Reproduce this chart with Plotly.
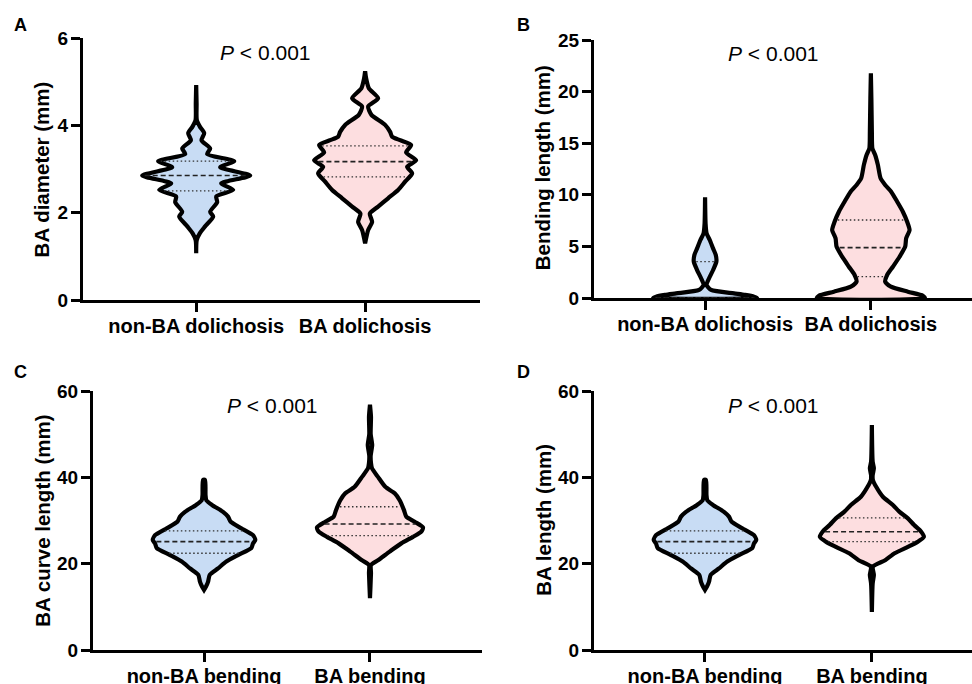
import numpy as np
import plotly.graph_objects as go

# ---------------- DATA ----------------
# Violin outlines: y values (mm) and half-width density readings (bottom -> top)
A_non_y = [1.07, 1.37, 1.53, 1.68, 1.91, 2.02, 2.24, 2.37, 2.52, 2.67, 2.85, 3.04, 3.18, 3.34, 3.47, 3.66, 3.82, 3.97, 4.12, 4.50, 4.92]
A_non_w = [0, 0.5, 3.7, 8.7, 17, 14, 21, 20, 37, 25, 54, 24, 38, 11, 14, 5.3, 8, 3.7, 0.6, 0.4, 0]
A_ba_y = [1.30, 1.60, 1.79, 1.98, 2.14, 2.33, 2.52, 2.71, 2.90, 3.05, 3.20, 3.38, 3.55, 3.66, 3.74, 3.85, 4.01, 4.24, 4.43, 4.62, 4.85, 5.08, 5.24]
A_ba_w = [0, 3, 7, 4.7, 13, 23, 33, 40, 47, 42, 51, 41, 46, 35, 27, 25, 20, 6.3, 3, 13, 3.7, 1, 0]

B_non_y = [0, 0.13, 0.30, 0.45, 0.78, 1.26, 1.91, 2.71, 3.52, 4.17, 4.81, 5.62, 6.27, 7.2, 9.76]
B_non_w = [52, 49, 40, 29, 6, 1.5, 4, 8, 11.3, 10.7, 8, 4.7, 1.5, 0.5, 0]
B_ba_y = [0, 0.22, 0.61, 1.1, 1.58, 2.23, 3.03, 4.0, 4.97, 5.78, 6.59, 7.39, 8.36, 9.33, 10.3, 10.95, 11.6, 12.9, 13.86, 14.5, 16.1, 19.35, 21.77]
B_ba_w = [54, 52, 37, 20, 14.3, 16.3, 22, 28.7, 34.3, 35.3, 38.7, 36.3, 32, 26.3, 20.3, 14.3, 9.7, 7, 4.3, 1.5, 1, 0.5, 0]

C_non_y = [13.9, 14.7, 15.8, 17.4, 18.9, 20.5, 22.0, 23.6, 24.7, 25.5, 26.6, 28.2, 29.7, 30.9, 32.0, 33.6, 34.7, 35.9, 39.4]
C_non_w = [0, 2, 4, 5.7, 14, 22.3, 34, 47.3, 49, 51.3, 49, 37.3, 26.7, 24, 19, 8, 2.3, 1.5, 1]
C_ba_y = [12.0, 17.8, 19.7, 20.8, 22.8, 24.7, 26.2, 27.4, 28.4, 29.7, 30.9, 32.4, 34.7, 36.3, 37.8, 40.1, 42.1, 43.3, 45.0, 47.5, 50.0, 54.0, 56.8]
C_ba_w = [0, 1, 1, 8, 19.7, 31.3, 43, 51.3, 53, 44.7, 36.3, 34, 29.7, 24.7, 15.3, 8, 2, 1, 0.7, 2.2, 0.7, 1, 0]

D_non_y = [13.9, 14.7, 15.8, 17.4, 18.9, 20.5, 22.0, 23.6, 24.7, 25.5, 26.6, 28.2, 29.7, 30.9, 32.0, 33.6, 34.7, 35.9, 39.4]
D_non_w = [0, 2, 4, 5.7, 14, 22.3, 34, 47.3, 49, 51.3, 49, 37.3, 26.7, 24, 19, 8, 2.3, 1.5, 1]
D_ba_y = [8.8, 15.4, 17.4, 19.3, 20.8, 22.4, 23.9, 25.1, 26.2, 27.4, 29.0, 30.5, 32.0, 33.6, 35.5, 37.8, 39.4, 40.5, 42.1, 43.6, 52.1]
D_ba_w = [0, 0.8, 2, 1, 13.3, 22.7, 36, 46, 52, 49.3, 42, 36, 27.7, 21, 11, 4.3, 1, 0.8, 2, 0.8, 0]

# Quartiles [Q1, median, Q3]
A_non_q = [2.50, 2.85, 3.18]
A_ba_q = [2.82, 3.17, 3.53]
B_non_q = [0.0, 0.0, 3.52]
B_ba_q = [2.07, 4.88, 7.56]
C_non_q = [22.4, 25.1, 27.6]
C_ba_q = [26.5, 29.2, 33.2]
D_non_q = [22.4, 25.1, 27.6]
D_ba_q = [25.1, 27.4, 30.6]

cats_dolichosis = ["non-BA dolichosis", "BA dolichosis"]
cats_bending = ["non-BA bending", "BA bending"]
y_titles = ["BA diameter (mm)", "Bending length (mm)", "BA curve length (mm)", "BA length (mm)"]
panel_letters = ["A", "B", "C", "D"]
p_text = "<i>P</i> &lt; 0.001"
A_ticks = [0, 2, 4, 6]
B_ticks = [0, 5, 10, 15, 20, 25]
C_ticks = [0, 20, 40, 60]
D_ticks = [0, 20, 40, 60]

# ---------------- STYLE / LAYOUT ----------------
W, H = 972, 684
FONT = "Liberation Sans, Arial, Helvetica, sans-serif"
BLUE = "#C8DCF4"
PINK = "#FDDEE0"

panels = [
    dict(xd=(83, 480), yd=(38, 300), xr=(-0.67, 1.68), yr=(0, 6), ticks=A_ticks, cats=cats_dolichosis,
         v=[(A_non_y, A_non_w, A_non_q), (A_ba_y, A_ba_w, A_ba_q)], title_x=41.7, title_y=169.7,
         letter=(20, 25), p=(0.41, 5.67)),
    dict(xd=(594, 972), yd=(40, 298), xr=(-0.67, 1.61), yr=(0, 25), ticks=B_ticks, cats=cats_dolichosis,
         v=[(B_non_y, B_non_w, B_non_q), (B_ba_y, B_ba_w, B_ba_q)], title_x=542.7, title_y=167.5,
         letter=(523, 25), p=(0.41, 23.7)),
    dict(xd=(93, 482), yd=(391, 650), xr=(-0.669, 1.675), yr=(0, 60), ticks=C_ticks, cats=cats_bending,
         v=[(C_non_y, C_non_w, C_non_q), (C_ba_y, C_ba_w, C_ba_q)], title_x=41.7, title_y=521,
         letter=(20, 372), p=(0.41, 56.7)),
    dict(xd=(594, 972), yd=(391, 650), xr=(-0.665, 1.6), yr=(0, 60), ticks=D_ticks, cats=cats_bending,
         v=[(D_non_y, D_non_w, D_non_q), (D_ba_y, D_ba_w, D_ba_q)], title_x=542.7, title_y=520,
         letter=(523, 372), p=(0.41, 56.7)),
]

fig = go.Figure()
annotations = []
layout_axes = {}

for i, pn in enumerate(panels):
    n = "" if i == 0 else str(i + 1)
    xa, ya = "x" + n, "y" + n
    px_per_cat = (pn["xd"][1] - pn["xd"][0]) / (pn["xr"][1] - pn["xr"][0])
    for c, ((vy, vw, q), fill) in enumerate(zip(pn["v"], [BLUE, PINK])):
        hw = np.array(vw) / px_per_cat
        vy = np.array(vy)
        xs = list(c + hw) + list(c - hw[::-1]) + [c + hw[0]]
        ys = list(vy) + list(vy[::-1]) + [vy[0]]
        fig.add_trace(go.Scatter(x=xs, y=ys, xaxis=xa, yaxis=ya, mode="lines", fill="toself",
                                 fillcolor=fill, line=dict(color="black", width=4.2, shape="spline", smoothing=0.6),
                                 hoverinfo="skip", showlegend=False))
        # quartile lines
        for k, qv in enumerate(q):
            half = max(np.interp(qv, vy, hw) - 2.5 / px_per_cat, 0)
            fig.add_trace(go.Scatter(x=[c - half, c + half], y=[qv, qv], xaxis=xa, yaxis=ya, mode="lines",
                                     line=dict(color="#222222" if k == 1 else "#333333",
                                               width=1.6 if k == 1 else 1.4,
                                               dash="5px,3px" if k == 1 else "1.5px,2.5px"),
                                     hoverinfo="skip", showlegend=False))
    axis_common = dict(showline=True, linewidth=3, linecolor="black", ticks="outside", ticklen=9,
                       tickwidth=3, tickcolor="black", showgrid=False, zeroline=False, fixedrange=True,
                       automargin=False)
    layout_axes["xaxis" + n] = dict(axis_common, domain=[pn["xd"][0] / W, pn["xd"][1] / W], range=list(pn["xr"]),
                                    anchor=ya, tickvals=[0, 1], ticktext=pn["cats"], ticklabelstandoff=-3,
                                    tickfont=dict(family=FONT, size=20, color="black", weight="bold"))
    layout_axes["yaxis" + n] = dict(axis_common, domain=[1 - pn["yd"][1] / H, 1 - pn["yd"][0] / H], range=list(pn["yr"]),
                                    anchor=xa, tickvals=pn["ticks"], ticklabelstandoff=-1,
                                    tickfont=dict(family=FONT, size=19, color="black", weight="bold"))
    annotations.append(dict(text=y_titles[i], xref="paper", yref="paper", x=pn["title_x"] / W, y=1 - pn["title_y"] / H,
                            textangle=-90, showarrow=False, xanchor="center", yanchor="middle",
                            font=dict(family=FONT, size=20.5, color="black", weight="bold")))
    annotations.append(dict(text=panel_letters[i], xref="paper", yref="paper", x=pn["letter"][0] / W,
                            y=1 - pn["letter"][1] / H, showarrow=False, xanchor="center", yanchor="middle",
                            font=dict(family=FONT, size=18, color="black", weight="bold")))
    annotations.append(dict(text=p_text, xref=xa, yref=ya, x=pn["p"][0], y=pn["p"][1], showarrow=False,
                            xanchor="center", yanchor="middle", font=dict(family=FONT, size=21, color="black")))

fig.update_layout(width=W, height=H, margin=dict(l=0, r=0, t=0, b=0, autoexpand=False), paper_bgcolor="white",
                  plot_bgcolor="white", showlegend=False, annotations=annotations, **layout_axes)
fig.write_html("out.html", config={"displayModeBar": False},
               post_script="document.body.style.margin='0';document.body.style.overflow='hidden';")
